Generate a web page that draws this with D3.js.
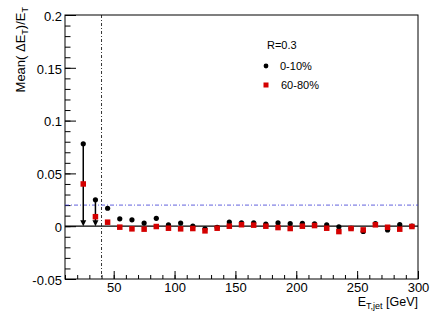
<!DOCTYPE html>
<html>
<head>
<meta charset="utf-8">
<script src="https://cdn.jsdelivr.net/npm/d3@7"></script>
<style>
  body { margin: 0; background: #fff; }
  svg { font-family: "Liberation Sans", Arial, sans-serif; }
</style>
</head>
<body>
<svg id="chart" width="441" height="317"></svg>
<script>
// bin centres (GeV)
var etJet = [25, 35, 45, 55, 65, 75, 85, 95, 105, 115, 125, 135, 145, 155,
             165, 175, 185, 195, 205, 215, 225, 235, 245, 255, 265, 275, 285, 295];
// 0-10% centrality
var central = [0.078, 0.025, 0.017, 0.007, 0.006, 0.003, 0.0075, 0.0013, 0.003, 0.0,
               -0.0025, -0.001, 0.004, 0.0032, 0.0032, 0.0019, 0.0032, 0.0025, 0.0028, 0.0022,
               0.0013, -0.0006, -0.002, -0.005, 0.0025, -0.0035, 0.0016, 0.0];
// 60-80% centrality
var peripheral = [0.040, 0.009, 0.0038, -0.0009, -0.0025, -0.0028, -0.0003, -0.0019, -0.0025, -0.0022,
                  -0.0044, -0.0019, 0.0, 0.0014, 0.001, 0.0, -0.0013, -0.0022, 0.0, 0.0006,
                  -0.0019, -0.0051, -0.0022, -0.0035, 0.0013, -0.001, -0.0028, -0.0003];
// bins drawn with an arrow down to zero
var arrowBins = [25, 35];
var legendLabels = ["0-10%", "60-80%"];
var xDomain = [10, 300];
var yDomain = [-0.05, 0.2];
var cutX = 40;
var refY = 0.02;

var svg = d3.select("#chart");
var margin = {top: 15, right: 23, bottom: 38, left: 65};
var width = +svg.attr("width") - margin.left - margin.right;
var height = +svg.attr("height") - margin.top - margin.bottom;
var g = svg.append("g").attr("transform", "translate(" + margin.left + "," + margin.top + ")");

var x = d3.scaleLinear().domain(xDomain).range([0, width]);
var y = d3.scaleLinear().domain(yDomain).range([height, 0]);

// minor ticks first
g.append("g").attr("transform", "translate(0," + height + ")")
  .call(d3.axisBottom(x).tickValues(d3.range(10, 301, 10)).tickSize(-4).tickFormat(""))
  .call(a => a.select(".domain").remove());
g.append("g")
  .call(d3.axisLeft(y).tickValues(d3.range(-50, 201, 10).map(v => v / 1000)).tickSize(-5.5).tickFormat(""))
  .call(a => a.select(".domain").remove());

// major ticks + labels
var xAxis = g.append("g").attr("transform", "translate(0," + height + ")")
  .call(d3.axisBottom(x).tickValues([50, 100, 150, 200, 250, 300]).tickSize(-8).tickPadding(4).tickFormat(d3.format("d")));
xAxis.select(".domain").remove();
xAxis.selectAll("text").attr("font-size", 13).attr("fill", "#000").attr("font-family", "Liberation Sans, Arial, sans-serif");

var yAxis = g.append("g")
  .call(d3.axisLeft(y).tickValues([-0.05, 0, 0.05, 0.1, 0.15, 0.2]).tickSize(-11).tickPadding(3)
    .tickFormat(d => d === 0 ? "0" : String(+d.toFixed(2))));
yAxis.select(".domain").remove();
yAxis.selectAll("text").attr("font-size", 13).attr("fill", "#000").attr("font-family", "Liberation Sans, Arial, sans-serif")
  .attr("dy", "0.4em");
svg.selectAll(".tick line").attr("stroke", "#000");

// frame
g.append("rect").attr("width", width).attr("height", height)
  .attr("fill", "none").attr("stroke", "#000").attr("stroke-width", 1);

// reference lines
g.append("line").attr("x1", x(cutX)).attr("x2", x(cutX)).attr("y1", 0).attr("y2", height)
  .attr("stroke", "#000").attr("stroke-width", 0.8).attr("stroke-dasharray", "3,2,1,2");
g.append("line").attr("x1", 0).attr("x2", width).attr("y1", y(refY)).attr("y2", y(refY))
  .attr("stroke", "#3a3ad6").attr("stroke-width", 0.8).attr("stroke-dasharray", "4,2,1,2");
g.append("line").attr("x1", 0).attr("x2", width).attr("y1", y(0)).attr("y2", y(0))
  .attr("stroke", "#000").attr("stroke-width", 1.2);

// arrows from central points down to zero
arrowBins.forEach(function (b) {
  var i = etJet.indexOf(b);
  var cx = x(b), y0 = y(0), y1 = y(central[i]);
  g.append("line").attr("x1", cx).attr("x2", cx).attr("y1", y1).attr("y2", y0 - 4)
    .attr("stroke", "#000").attr("stroke-width", 1.5);
  g.append("path").attr("d", "M" + (cx - 3) + "," + (y0 - 6) + "L" + (cx + 3) + "," + (y0 - 6) + "L" + cx + "," + y0 + "Z")
    .attr("fill", "#000");
});

// markers
g.selectAll("circle.central").data(etJet).enter().append("circle")
  .attr("class", "central")
  .attr("cx", d => x(d)).attr("cy", (d, i) => y(central[i])).attr("r", 2.6).attr("fill", "#000");
var sq = 5.5;
g.selectAll("rect.periph").data(etJet).enter().append("rect")
  .attr("class", "periph")
  .attr("x", d => x(d) - sq / 2).attr("y", (d, i) => y(peripheral[i]) - sq / 2)
  .attr("width", sq).attr("height", sq).attr("fill", "#d40000");

// legend
var leg = svg.append("g").attr("font-size", 11);
leg.append("text").attr("x", 267).attr("y", 49).text("R=0.3");
leg.append("circle").attr("cx", 266).attr("cy", 66).attr("r", 2.4).attr("fill", "#000");
leg.append("text").attr("x", 280).attr("y", 70).text(legendLabels[0]);
leg.append("rect").attr("x", 263.5).attr("y", 82.5).attr("width", 5).attr("height", 5).attr("fill", "#d40000");
leg.append("text").attr("x", 281).attr("y", 89).text(legendLabels[1]);

// axis titles
var xt = svg.append("text").attr("x", 418).attr("y", 306).attr("text-anchor", "end").attr("font-size", 12.5);
xt.append("tspan").text("E");
xt.append("tspan").attr("font-size", 9).attr("dy", 3).text("T,jet");
xt.append("tspan").attr("dy", -3).text(" [GeV]");

var yt = svg.append("text").attr("transform", "translate(25,7) rotate(-90)").attr("text-anchor", "end").attr("font-size", 13);
yt.append("tspan").text("Mean( \u0394E");
yt.append("tspan").attr("font-size", 9).attr("dy", 3).text("T");
yt.append("tspan").attr("dy", -3).text(")/E");
yt.append("tspan").attr("font-size", 9).attr("dy", 3).text("T");
</script>
</body>
</html>
